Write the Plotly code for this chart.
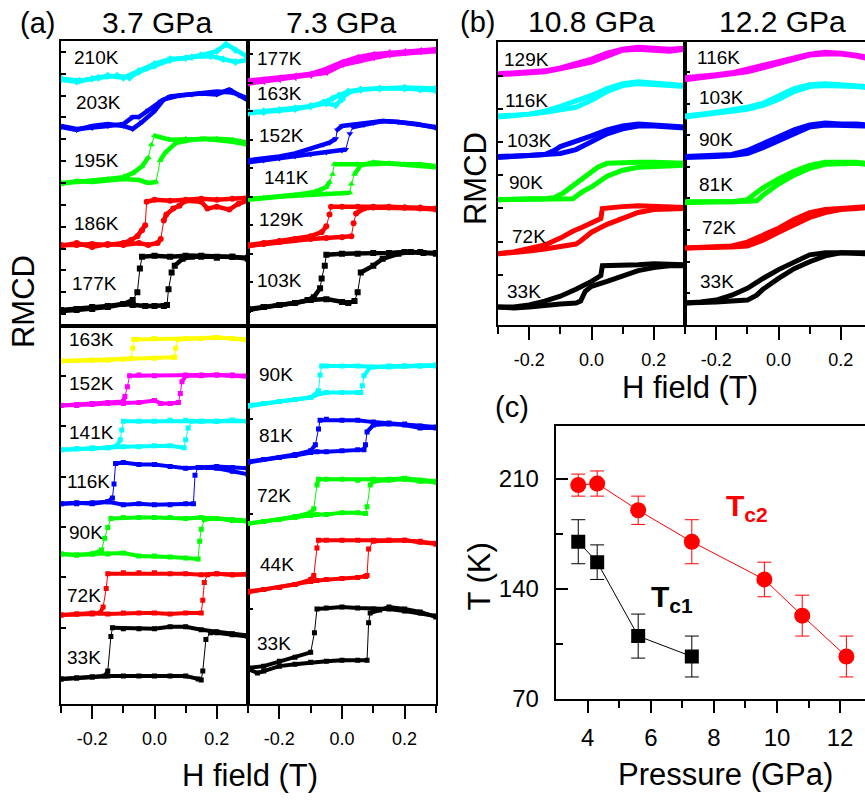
import plotly.graph_objects as go

FONT = "Liberation Sans, Arial, Helvetica, sans-serif"
W, H = 865, 810

# ---------------------------------------------------------------------------
# RMCD field sweeps.  Each branch: list of (field [T], signal [a.u., with offset]).
# up_* : sweep -0.3 T -> +0.3 T,  dn_* : sweep +0.3 T -> -0.3 T
# ---------------------------------------------------------------------------

# (a) 3.7 GPa, high-temperature frame
up_37_210 = [(-0.30, 250), (-0.25, 248), (-0.20, 251), (-0.15, 254), (-0.10, 252), (-0.05, 259), (0.00, 266), (0.05, 271), (0.10, 272), (0.15, 275), (0.20, 279), (0.23, 286), (0.26, 280), (0.30, 273)]
dn_37_210 = [(0.30, 270), (0.26, 268), (0.22, 271), (0.18, 274), (0.12, 273), (0.05, 270), (0.00, 264), (-0.05, 258), (-0.08, 252), (-0.12, 254), (-0.18, 252), (-0.24, 249), (-0.30, 251)]
up_37_203 = [(-0.30, 202), (-0.25, 199), (-0.20, 203), (-0.15, 205), (-0.10, 203), (-0.07, 200), (-0.04, 207), (0.00, 218), (0.03, 230), (0.08, 234), (0.15, 236), (0.20, 235), (0.24, 240), (0.27, 234), (0.30, 229)]
dn_37_203 = [(0.30, 231), (0.25, 237), (0.20, 238), (0.12, 235), (0.05, 233), (0.02, 228), (-0.02, 219), (-0.05, 212), (-0.07, 212), (-0.10, 205), (-0.15, 203), (-0.20, 201), (-0.25, 200), (-0.30, 203)]
up_37_195 = [(-0.30, 144), (-0.25, 147), (-0.20, 146), (-0.15, 148), (-0.10, 149), (-0.05, 148), (-0.02, 145), (0.005, 146), (0.018, 168), (0.035, 176), (0.07, 186), (0.12, 189), (0.16, 190), (0.20, 189), (0.25, 187), (0.30, 184)]
dn_37_195 = [(0.30, 186), (0.25, 189), (0.20, 190), (0.15, 190), (0.10, 190), (0.05, 189), (0.00, 193), (-0.01, 184), (-0.02, 171), (-0.04, 162), (-0.07, 155), (-0.10, 151), (-0.15, 149), (-0.20, 147), (-0.25, 146), (-0.30, 145)]
up_37_186 = [(-0.30, 81), (-0.25, 84), (-0.20, 80), (-0.15, 83), (-0.10, 82), (-0.05, 84), (-0.02, 82), (0.01, 84), (0.02, 88), (0.03, 107), (0.038, 113), (0.06, 119), (0.08, 122), (0.10, 127), (0.15, 126), (0.17, 119), (0.20, 121), (0.24, 118), (0.27, 124), (0.30, 127)]
dn_37_186 = [(0.30, 130), (0.25, 129), (0.20, 128), (0.15, 129), (0.10, 128), (0.05, 127), (0.00, 128), (-0.025, 126), (-0.03, 102), (-0.04, 97), (-0.055, 91), (-0.075, 87), (-0.10, 84), (-0.15, 82), (-0.20, 83), (-0.25, 82), (-0.30, 82)]
up_37_177 = [(-0.30, 16), (-0.25, 17), (-0.20, 19), (-0.15, 20), (-0.10, 22), (-0.07, 21), (-0.03, 20), (0.00, 20), (0.03, 20), (0.04, 21), (0.045, 37), (0.055, 54), (0.065, 61), (0.09, 68), (0.12, 70), (0.15, 70), (0.20, 69), (0.25, 70), (0.30, 68)]
dn_37_177 = [(0.30, 69), (0.25, 70), (0.20, 70), (0.15, 71), (0.10, 71), (0.05, 70), (0.00, 71), (-0.04, 70), (-0.047, 58), (-0.055, 34), (-0.07, 26), (-0.10, 22), (-0.15, 19), (-0.20, 17), (-0.25, 16), (-0.30, 15)]

# (a) 7.3 GPa, high-temperature frame
up_73_177 = [(-0.30, 246), (-0.25, 248), (-0.20, 250), (-0.15, 252), (-0.10, 254), (-0.05, 257), (0.00, 265), (0.05, 269), (0.10, 272), (0.15, 275), (0.20, 277), (0.25, 278), (0.30, 279)]
dn_73_177 = [(0.30, 281), (0.25, 280), (0.20, 279), (0.15, 278), (0.10, 276), (0.05, 273), (0.00, 268), (-0.05, 261), (-0.10, 256), (-0.15, 254), (-0.20, 252), (-0.25, 250), (-0.30, 249)]
up_73_163 = [(-0.30, 216), (-0.25, 217), (-0.20, 219), (-0.15, 220), (-0.10, 223), (-0.05, 226), (-0.02, 224), (0.00, 230), (0.02, 237), (0.06, 240), (0.12, 241), (0.20, 241), (0.25, 240), (0.30, 239)]
dn_73_163 = [(0.30, 241), (0.20, 242), (0.12, 241), (0.06, 240), (0.02, 238), (-0.01, 234), (-0.03, 231), (-0.06, 227), (-0.10, 223), (-0.15, 221), (-0.20, 219), (-0.25, 218), (-0.30, 217)]
up_73_152 = [(-0.30, 166), (-0.25, 168), (-0.20, 170), (-0.15, 172), (-0.10, 174), (-0.05, 176), (0.00, 178), (0.012, 179), (0.025, 195), (0.035, 202), (0.07, 204), (0.10, 206), (0.13, 208), (0.18, 207), (0.24, 205), (0.30, 201)]
dn_73_152 = [(0.30, 202), (0.24, 205), (0.18, 207), (0.13, 208), (0.08, 206), (0.03, 204), (0.00, 203), (-0.015, 199), (-0.02, 190), (-0.04, 186), (-0.06, 184), (-0.10, 180), (-0.15, 175), (-0.20, 172), (-0.25, 170), (-0.30, 168)]
up_73_141 = [(-0.30, 128), (-0.25, 130), (-0.20, 131), (-0.15, 132), (-0.10, 133), (-0.05, 134), (0.00, 134), (0.025, 135), (0.03, 144), (0.04, 154), (0.06, 163), (0.10, 166), (0.15, 165), (0.20, 164), (0.25, 163), (0.30, 161)]
dn_73_141 = [(0.30, 162), (0.25, 164), (0.20, 164), (0.15, 165), (0.10, 164), (0.05, 164), (0.00, 164), (-0.025, 164), (-0.03, 154), (-0.04, 146), (-0.05, 141), (-0.07, 138), (-0.10, 135), (-0.15, 133), (-0.20, 131), (-0.25, 130), (-0.30, 129)]
up_73_129 = [(-0.30, 81), (-0.25, 83), (-0.20, 85), (-0.15, 87), (-0.10, 88), (-0.05, 89), (0.00, 90), (0.03, 91), (0.037, 104), (0.045, 114), (0.07, 119), (0.10, 120), (0.15, 120), (0.20, 120), (0.25, 119), (0.30, 118)]
dn_73_129 = [(0.30, 119), (0.25, 120), (0.20, 120), (0.15, 121), (0.10, 121), (0.05, 121), (0.00, 121), (-0.035, 121), (-0.04, 113), (-0.05, 101), (-0.065, 95), (-0.10, 91), (-0.15, 88), (-0.20, 86), (-0.25, 84), (-0.30, 82)]
up_73_103 = [(-0.30, 16), (-0.25, 19), (-0.20, 21), (-0.15, 23), (-0.10, 26), (-0.05, 27), (0.00, 24), (0.02, 23), (0.04, 25), (0.05, 34), (0.06, 54), (0.10, 61), (0.13, 68), (0.18, 73), (0.22, 75), (0.26, 74), (0.30, 73)]
dn_73_103 = [(0.30, 74), (0.25, 75), (0.20, 75), (0.15, 74), (0.10, 74), (0.05, 73), (0.00, 73), (-0.05, 72), (-0.055, 61), (-0.065, 48), (-0.07, 38), (-0.09, 29), (-0.11, 26), (-0.15, 23), (-0.20, 21), (-0.25, 19), (-0.30, 17)]

# (a) 3.7 GPa, low-temperature frame
up_37_163 = [(-0.30, 348), (-0.20, 349), (-0.10, 350), (0.00, 351), (0.06, 352), (0.065, 352), (0.068, 361), (0.075, 370), (0.15, 371), (0.20, 372), (0.25, 371), (0.30, 369)]
dn_37_163 = [(0.30, 370), (0.25, 371), (0.20, 372), (0.10, 371), (0.00, 371), (-0.06, 370), (-0.067, 370), (-0.07, 361), (-0.075, 351), (-0.15, 349), (-0.20, 349), (-0.30, 348)]
up_37_152 = [(-0.30, 303), (-0.25, 303), (-0.20, 304), (-0.15, 305), (-0.10, 305), (-0.05, 306), (0.00, 308), (0.02, 305), (0.05, 305), (0.077, 306), (0.083, 315), (0.088, 327), (0.10, 333), (0.15, 333), (0.20, 334), (0.25, 333), (0.30, 332)]
dn_37_152 = [(0.30, 333), (0.25, 334), (0.20, 334), (0.15, 334), (0.10, 334), (0.00, 333), (-0.05, 334), (-0.08, 333), (-0.087, 322), (-0.095, 312), (-0.10, 307), (-0.15, 306), (-0.20, 305), (-0.25, 304), (-0.30, 303)]
up_37_141 = [(-0.30, 258), (-0.25, 259), (-0.20, 260), (-0.15, 260), (-0.10, 261), (-0.05, 261), (0.00, 262), (0.05, 262), (0.095, 260), (0.10, 268), (0.108, 280), (0.12, 287), (0.15, 287), (0.20, 287), (0.25, 288), (0.30, 287)]
dn_37_141 = [(0.30, 287), (0.25, 288), (0.20, 287), (0.15, 287), (0.10, 288), (0.05, 288), (0.00, 287), (-0.05, 287), (-0.10, 287), (-0.105, 278), (-0.11, 268), (-0.12, 262), (-0.15, 260), (-0.20, 259), (-0.25, 259), (-0.30, 258)]
up_37_116 = [(-0.30, 203), (-0.25, 204), (-0.20, 203), (-0.15, 205), (-0.10, 202), (-0.05, 203), (0.00, 202), (0.05, 202), (0.10, 203), (0.125, 203), (0.13, 232), (0.14, 240), (0.17, 240), (0.20, 239), (0.25, 236), (0.30, 233)]
dn_37_116 = [(0.30, 239), (0.25, 240), (0.20, 241), (0.15, 240), (0.10, 239), (0.05, 241), (0.00, 243), (-0.05, 243), (-0.10, 245), (-0.125, 244), (-0.13, 223), (-0.135, 209), (-0.15, 205), (-0.20, 204), (-0.25, 203), (-0.30, 203)]
up_37_90 = [(-0.30, 152), (-0.25, 151), (-0.20, 152), (-0.15, 152), (-0.10, 153), (-0.05, 150), (0.00, 150), (0.05, 149), (0.10, 148), (0.14, 147), (0.145, 165), (0.15, 177), (0.16, 187), (0.20, 188), (0.25, 186), (0.30, 185)]
dn_37_90 = [(0.30, 186), (0.25, 187), (0.20, 188), (0.15, 189), (0.10, 188), (0.05, 189), (0.00, 189), (-0.05, 189), (-0.10, 189), (-0.14, 188), (-0.15, 179), (-0.16, 168), (-0.17, 156), (-0.20, 152), (-0.25, 151), (-0.30, 152)]
up_37_72 = [(-0.30, 90), (-0.25, 91), (-0.20, 92), (-0.15, 91), (-0.10, 92), (-0.05, 92), (0.00, 92), (0.05, 91), (0.10, 92), (0.15, 92), (0.155, 105), (0.16, 123), (0.17, 131), (0.20, 132), (0.25, 131), (0.30, 131)]
dn_37_72 = [(0.30, 132), (0.25, 131), (0.20, 132), (0.15, 131), (0.10, 132), (0.05, 132), (0.00, 133), (-0.05, 133), (-0.10, 133), (-0.15, 132), (-0.155, 117), (-0.165, 98), (-0.175, 92), (-0.20, 91), (-0.25, 91), (-0.30, 90)]
up_37_33 = [(-0.30, 25), (-0.25, 26), (-0.20, 27), (-0.15, 28), (-0.10, 28), (-0.05, 28), (0.00, 28), (0.05, 28), (0.10, 28), (0.14, 25), (0.15, 24), (0.155, 33), (0.165, 65), (0.18, 72), (0.20, 72), (0.25, 70), (0.30, 68)]
dn_37_33 = [(0.30, 69), (0.25, 71), (0.20, 73), (0.15, 75), (0.10, 78), (0.05, 78), (0.00, 76), (-0.05, 76), (-0.10, 76), (-0.135, 77), (-0.14, 68), (-0.15, 33), (-0.16, 28), (-0.20, 27), (-0.25, 26), (-0.30, 25)]

# (a) 7.3 GPa, low-temperature frame
up_73_90 = [(-0.30, 302), (-0.25, 305), (-0.20, 307), (-0.15, 309), (-0.10, 311), (-0.07, 315), (-0.05, 316), (0.00, 316), (0.05, 316), (0.06, 316), (0.065, 323), (0.07, 333), (0.09, 342), (0.15, 342), (0.20, 343), (0.25, 343), (0.30, 343)]
dn_73_90 = [(0.30, 344), (0.25, 343), (0.20, 343), (0.15, 343), (0.10, 342), (0.05, 343), (0.00, 343), (-0.05, 343), (-0.065, 343), (-0.07, 334), (-0.075, 318), (-0.10, 311), (-0.15, 309), (-0.20, 307), (-0.25, 305), (-0.30, 303)]
up_73_81 = [(-0.30, 245), (-0.25, 248), (-0.20, 250), (-0.15, 252), (-0.10, 255), (-0.08, 256), (-0.05, 256), (0.00, 257), (0.05, 258), (0.07, 258), (0.075, 263), (0.08, 276), (0.10, 283), (0.15, 284), (0.20, 283), (0.25, 280), (0.30, 280)]
dn_73_81 = [(0.30, 281), (0.25, 282), (0.20, 284), (0.15, 285), (0.10, 286), (0.05, 288), (0.00, 288), (-0.05, 289), (-0.07, 288), (-0.075, 279), (-0.085, 263), (-0.10, 257), (-0.15, 253), (-0.20, 250), (-0.25, 248), (-0.30, 246)]
up_73_72 = [(-0.30, 183), (-0.25, 185), (-0.20, 187), (-0.15, 189), (-0.10, 191), (-0.08, 192), (-0.05, 192), (0.00, 194), (0.05, 194), (0.075, 193), (0.08, 200), (0.09, 222), (0.10, 226), (0.15, 227), (0.20, 228), (0.25, 226), (0.30, 225)]
dn_73_72 = [(0.30, 226), (0.25, 227), (0.20, 229), (0.15, 228), (0.10, 228), (0.05, 227), (0.00, 228), (-0.05, 228), (-0.075, 228), (-0.08, 222), (-0.09, 198), (-0.10, 194), (-0.15, 190), (-0.20, 187), (-0.25, 185), (-0.30, 183)]
up_73_44 = [(-0.30, 113), (-0.25, 116), (-0.20, 118), (-0.15, 121), (-0.10, 124), (-0.08, 125), (-0.05, 126), (0.00, 127), (0.05, 128), (0.075, 129), (0.08, 130), (0.085, 157), (0.10, 165), (0.15, 166), (0.20, 166), (0.25, 164), (0.30, 162)]
dn_73_44 = [(0.30, 163), (0.25, 165), (0.20, 166), (0.15, 166), (0.10, 166), (0.05, 166), (0.00, 166), (-0.05, 166), (-0.075, 166), (-0.08, 158), (-0.09, 130), (-0.10, 126), (-0.15, 121), (-0.20, 118), (-0.25, 116), (-0.30, 114)]
up_73_33 = [(-0.30, 35), (-0.27, 31), (-0.25, 33), (-0.20, 38), (-0.15, 40), (-0.10, 42), (-0.05, 43), (0.00, 44), (0.05, 44), (0.08, 44), (0.085, 82), (0.09, 92), (0.12, 95), (0.15, 98), (0.20, 96), (0.25, 93), (0.30, 88)]
dn_73_33 = [(0.30, 89), (0.25, 92), (0.20, 94), (0.15, 96), (0.10, 96), (0.05, 97), (0.00, 98), (-0.05, 97), (-0.08, 96), (-0.088, 72), (-0.10, 52), (-0.15, 47), (-0.20, 43), (-0.25, 38), (-0.30, 36)]

# (b) 10.8 GPa
up_108_129 = [(-0.30, 254), (-0.25, 255), (-0.20, 256), (-0.15, 257), (-0.10, 260), (-0.05, 263), (0.00, 267), (0.05, 273), (0.10, 279), (0.15, 280), (0.20, 279), (0.25, 278), (0.30, 280)]
dn_108_129 = [(0.30, 281), (0.25, 280), (0.20, 281), (0.15, 282), (0.10, 280), (0.05, 276), (0.00, 270), (-0.05, 265), (-0.10, 261), (-0.15, 258), (-0.20, 257), (-0.25, 256), (-0.30, 255)]
up_108_116 = [(-0.30, 211), (-0.25, 212), (-0.20, 214), (-0.15, 216), (-0.10, 218), (-0.05, 221), (0.00, 228), (0.05, 237), (0.10, 243), (0.15, 245), (0.20, 244), (0.25, 243), (0.30, 242)]
dn_108_116 = [(0.30, 243), (0.25, 244), (0.20, 246), (0.15, 247), (0.10, 245), (0.05, 240), (0.00, 233), (-0.05, 227), (-0.10, 222), (-0.15, 217), (-0.20, 214), (-0.25, 213), (-0.30, 212)]
up_108_103 = [(-0.30, 170), (-0.25, 171), (-0.20, 172), (-0.15, 172), (-0.10, 174), (-0.05, 178), (0.00, 186), (0.05, 194), (0.10, 199), (0.15, 202), (0.20, 202), (0.25, 201), (0.30, 200)]
dn_108_103 = [(0.30, 201), (0.25, 202), (0.20, 203), (0.15, 204), (0.10, 202), (0.05, 198), (0.00, 192), (-0.05, 187), (-0.10, 181), (-0.12, 177), (-0.15, 173), (-0.20, 172), (-0.25, 171), (-0.30, 171)]
up_108_90 = [(-0.30, 127), (-0.25, 127), (-0.20, 128), (-0.15, 128), (-0.10, 128), (-0.06, 128), (-0.03, 135), (0.00, 140), (0.05, 151), (0.10, 157), (0.15, 160), (0.20, 161), (0.25, 162), (0.30, 162)]
dn_108_90 = [(0.30, 164), (0.25, 165), (0.20, 165), (0.15, 165), (0.10, 165), (0.05, 164), (0.02, 160), (0.00, 155), (-0.03, 148), (-0.06, 141), (-0.09, 134), (-0.12, 129), (-0.15, 128), (-0.20, 128), (-0.25, 127), (-0.30, 127)]
up_108_72 = [(-0.30, 72), (-0.25, 73), (-0.20, 75), (-0.15, 77), (-0.10, 79), (-0.05, 82), (-0.035, 85), (0.00, 94), (0.05, 102), (0.10, 108), (0.15, 114), (0.20, 117), (0.25, 118), (0.30, 118)]
dn_108_72 = [(0.30, 119), (0.25, 120), (0.20, 120), (0.15, 121), (0.10, 120), (0.06, 119), (0.035, 118), (0.03, 108), (0.00, 103), (-0.03, 99), (-0.06, 95), (-0.10, 88), (-0.15, 81), (-0.20, 77), (-0.25, 74), (-0.30, 72)]
up_108_33 = [(-0.30, 18), (-0.25, 17), (-0.20, 18), (-0.15, 20), (-0.10, 21), (-0.05, 22), (-0.035, 24), (-0.02, 34), (0.00, 39), (0.05, 44), (0.10, 50), (0.15, 55), (0.20, 58), (0.25, 60), (0.30, 60)]
dn_108_33 = [(0.30, 61), (0.25, 62), (0.20, 62), (0.15, 61), (0.10, 61), (0.05, 61), (0.035, 60), (0.03, 50), (0.00, 44), (-0.05, 36), (-0.10, 29), (-0.15, 24), (-0.20, 20), (-0.25, 18), (-0.30, 18)]

# (b) 12.2 GPa
up_122_116 = [(-0.30, 249), (-0.25, 251), (-0.20, 253), (-0.15, 255), (-0.10, 257), (-0.05, 261), (0.00, 265), (0.05, 270), (0.10, 274), (0.15, 275), (0.20, 275), (0.25, 273), (0.28, 271)]
dn_122_116 = [(0.28, 272), (0.25, 274), (0.20, 276), (0.15, 277), (0.10, 275), (0.05, 271), (0.00, 267), (-0.05, 263), (-0.10, 259), (-0.15, 256), (-0.20, 254), (-0.25, 252), (-0.30, 251)]
up_122_103 = [(-0.30, 211), (-0.25, 213), (-0.20, 215), (-0.15, 217), (-0.10, 219), (-0.05, 223), (0.00, 229), (0.05, 237), (0.10, 242), (0.15, 243), (0.20, 243), (0.25, 242), (0.28, 241)]
dn_122_103 = [(0.28, 242), (0.25, 243), (0.20, 244), (0.15, 245), (0.10, 244), (0.05, 240), (0.00, 232), (-0.05, 225), (-0.10, 221), (-0.15, 218), (-0.20, 216), (-0.25, 214), (-0.30, 212)]
up_122_90 = [(-0.30, 170), (-0.25, 170), (-0.20, 171), (-0.15, 172), (-0.10, 174), (-0.05, 180), (0.00, 187), (0.05, 195), (0.10, 201), (0.15, 203), (0.20, 203), (0.25, 202), (0.28, 202)]
dn_122_90 = [(0.28, 203), (0.25, 204), (0.20, 204), (0.15, 205), (0.10, 203), (0.05, 198), (0.00, 191), (-0.05, 184), (-0.10, 177), (-0.15, 173), (-0.20, 172), (-0.25, 171), (-0.30, 171)]
up_122_81 = [(-0.30, 124), (-0.25, 125), (-0.20, 125), (-0.15, 125), (-0.10, 125), (-0.07, 126), (-0.04, 134), (0.00, 143), (0.05, 152), (0.10, 159), (0.15, 163), (0.20, 164), (0.25, 164), (0.28, 163)]
dn_122_81 = [(0.28, 164), (0.25, 165), (0.20, 165), (0.15, 165), (0.10, 162), (0.05, 156), (0.00, 148), (-0.05, 139), (-0.08, 132), (-0.10, 127), (-0.15, 125), (-0.20, 125), (-0.25, 125), (-0.30, 125)]
up_122_72 = [(-0.30, 78), (-0.25, 78), (-0.20, 79), (-0.15, 79), (-0.10, 80), (-0.07, 83), (-0.05, 86), (0.00, 94), (0.05, 102), (0.10, 109), (0.15, 114), (0.20, 117), (0.25, 118), (0.28, 119)]
dn_122_72 = [(0.28, 120), (0.25, 119), (0.20, 118), (0.15, 117), (0.10, 114), (0.05, 107), (0.00, 98), (-0.05, 91), (-0.10, 84), (-0.15, 80), (-0.20, 79), (-0.25, 79), (-0.30, 78)]
up_122_33 = [(-0.30, 22), (-0.25, 22), (-0.20, 23), (-0.15, 24), (-0.10, 25), (-0.07, 30), (-0.05, 36), (0.00, 47), (0.05, 57), (0.10, 64), (0.15, 70), (0.20, 73), (0.25, 72), (0.28, 72)]
dn_122_33 = [(0.28, 73), (0.25, 73), (0.20, 74), (0.15, 73), (0.10, 71), (0.05, 64), (0.00, 56), (-0.05, 47), (-0.10, 37), (-0.15, 30), (-0.20, 25), (-0.25, 23), (-0.30, 22)]

# (c) transition temperatures vs pressure
pressure_c1 = [3.7, 4.3, 5.6, 7.3]
tc1 = [170, 157, 110, 97]
tc1_err = [14, 11, 14, 13]
pressure_c2 = [3.7, 4.3, 5.6, 7.3, 9.6, 10.8, 12.2]
tc2 = [206, 207, 190, 170, 146, 123, 97]
tc2_err = [7, 8, 9, 14, 11, 13, 13]

# curve sets per frame: (label, up-sweep, down-sweep), top to bottom
frame_37_high = [("210K", up_37_210, dn_37_210), ("203K", up_37_203, dn_37_203), ("195K", up_37_195, dn_37_195),
                 ("186K", up_37_186, dn_37_186), ("177K", up_37_177, dn_37_177)]
frame_73_high = [("177K", up_73_177, dn_73_177), ("163K", up_73_163, dn_73_163), ("152K", up_73_152, dn_73_152),
                 ("141K", up_73_141, dn_73_141), ("129K", up_73_129, dn_73_129), ("103K", up_73_103, dn_73_103)]
frame_37_low = [("163K", up_37_163, dn_37_163), ("152K", up_37_152, dn_37_152), ("141K", up_37_141, dn_37_141),
                ("116K", up_37_116, dn_37_116), ("90K", up_37_90, dn_37_90), ("72K", up_37_72, dn_37_72),
                ("33K", up_37_33, dn_37_33)]
frame_73_low = [("90K", up_73_90, dn_73_90), ("81K", up_73_81, dn_73_81), ("72K", up_73_72, dn_73_72),
                ("44K", up_73_44, dn_73_44), ("33K", up_73_33, dn_73_33)]
frame_108 = [("129K", up_108_129, dn_108_129), ("116K", up_108_116, dn_108_116), ("103K", up_108_103, dn_108_103),
             ("90K", up_108_90, dn_108_90), ("72K", up_108_72, dn_108_72), ("33K", up_108_33, dn_108_33)]
frame_122 = [("116K", up_122_116, dn_122_116), ("103K", up_122_103, dn_122_103), ("90K", up_122_90, dn_122_90),
             ("81K", up_122_81, dn_122_81), ("72K", up_122_72, dn_122_72), ("33K", up_122_33, dn_122_33)]

# ---------------------------------------------------------------------------
# styling / layout
# ---------------------------------------------------------------------------
BLACK, RED, GREEN, BLUE = "#000000", "#FF0000", "#00FF00", "#0000FF"
CYAN, MAGENTA, YELLOW = "#00FFFF", "#FF00FF", "#FFFF00"

frames = [
    dict(n="", curves=frame_37_high, colors=[CYAN, BLUE, GREEN, RED, BLACK],
         symbols=["diamond", "triangle-down", "triangle-up", "circle", "square"], band=4.5, msize=6, split=True,
         labels=[(-0.266, 273), (-0.26, 227), (-0.266, 168), (-0.266, 104), (-0.27, 43)]),
    dict(n="2", curves=frame_73_high, colors=[MAGENTA, CYAN, BLUE, GREEN, RED, BLACK],
         symbols=["triangle-left", "diamond", "triangle-down", "triangle-up", "circle", "square"], band=4.5, msize=6,
         split=True,
         labels=[(-0.278, 272), (-0.278, 236), (-0.272, 193), (-0.256, 151), (-0.272, 108), (-0.278, 46)]),
    dict(n="3", curves=frame_37_low, colors=[YELLOW, MAGENTA, CYAN, BLUE, GREEN, RED, BLACK],
         symbols=["square"] * 7, band=4.0, msize=5, split=True,
         labels=[(-0.282, 370), (-0.282, 325), (-0.282, 275), (-0.287, 226), (-0.282, 174), (-0.287, 110), (-0.287, 47)]),
    dict(n="4", curves=frame_73_low, colors=[CYAN, BLUE, GREEN, RED, BLACK],
         symbols=["square"] * 5, band=4.0, msize=5, split=True,
         labels=[(-0.272, 334), (-0.272, 272), (-0.278, 211), (-0.269, 141), (-0.278, 61)]),
    dict(n="5", curves=frame_108, colors=[MAGENTA, CYAN, BLUE, GREEN, RED, BLACK],
         symbols=[None] * 6, band=5.0, msize=0, split=False,
         labels=[(-0.288, 270), (-0.283, 228), (-0.277, 187), (-0.272, 145), (-0.261, 90), (-0.277, 34)]),
    dict(n="6", curves=frame_122, colors=[MAGENTA, CYAN, BLUE, GREEN, RED, BLACK],
         symbols=[None] * 6, band=5.0, msize=0, split=False,
         labels=[(-0.268, 272), (-0.262, 231), (-0.262, 188), (-0.262, 142), (-0.251, 99), (-0.257, 44)]),
]


def split_sweep(pts, split=True, min_jump=6.0, max_dh=0.016):
    """Continuous stretches of a sweep vs. near-vertical switching steps."""
    bx, by = [pts[0][0]], [pts[0][1]]
    jx, jy = [], []
    for (h0, m0), (h1, m1) in zip(pts, pts[1:]):
        if split and abs(m1 - m0) > min_jump and abs(h1 - h0) < max_dh:
            jx += [h0, h1, None]
            jy += [m0, m1, None]
            bx.append(None)
            by.append(None)
        bx.append(h1)
        by.append(m1)
    return bx, by, jx, jy


fig = go.Figure()
annotations = []

for fr in frames:
    xa, ya = "x" + fr["n"], "y" + fr["n"]
    for (label, up, dn), color, sym, (lx, ly) in zip(fr["curves"], fr["colors"], fr["symbols"], fr["labels"]):
        for sweep in (up, dn):
            bx, by, jx, jy = split_sweep(sweep, fr["split"])
            fig.add_trace(go.Scatter(
                x=bx, y=by, xaxis=xa, yaxis=ya, name=label,
                mode="lines+markers" if sym else "lines",
                line=dict(color=color, width=fr["band"]),
                marker=dict(symbol=sym or "circle", size=fr["msize"], color=color),
                connectgaps=False, showlegend=False, hoverinfo="skip"))
            if jx:
                fig.add_trace(go.Scatter(
                    x=jx, y=jy, xaxis=xa, yaxis=ya, name=label, mode="lines",
                    line=dict(color=color, width=1), showlegend=False, hoverinfo="skip"))
        annotations.append(dict(x=lx, y=ly, xref=xa, yref=ya, text=label, showarrow=False,
                                xanchor="left", yanchor="middle",
                                font=dict(family=FONT, size=19, color="black")))

# (c) Tc1 / Tc2
fig.add_trace(go.Scatter(
    x=pressure_c2, y=tc2, xaxis="x7", yaxis="y7", mode="lines+markers", name="Tc2",
    line=dict(color=RED, width=1), marker=dict(symbol="circle", size=16, color=RED),
    error_y=dict(type="data", array=tc2_err, color=RED, thickness=1, width=7),
    showlegend=False, hoverinfo="skip"))
fig.add_trace(go.Scatter(
    x=pressure_c1, y=tc1, xaxis="x7", yaxis="y7", mode="lines+markers", name="Tc1",
    line=dict(color=BLACK, width=1), marker=dict(symbol="square", size=14, color=BLACK),
    error_y=dict(type="data", array=tc1_err, color=BLACK, thickness=1, width=7),
    showlegend=False, hoverinfo="skip"))


def dx(a, b):
    return [a / W, min(b / W, 1.0)]


def dy(top, bottom):
    return [1 - bottom / H, 1 - top / H]


FRAME = dict(showline=True, linecolor="black", linewidth=2, mirror=True, showgrid=False, zeroline=False)
FIELD_RANGE = [-0.3002, 0.3002]


def field_axis(dom, anchor, labelled, rng=FIELD_RANGE, mirror=True):
    ax = dict(FRAME, domain=dom, anchor=anchor, range=rng, mirror=mirror)
    if labelled:
        ax.update(ticks="outside", tickvals=[-0.2, 0.0, 0.2], ticktext=["-0.2", "0.0", "0.2"],
                  ticklen=13, tickwidth=2, tickcolor="black",
                  tickfont=dict(family=FONT, size=18, color="black"), ticklabelstandoff=5,
                  minor=dict(ticks="outside", tickvals=[-0.3, -0.1, 0.1, 0.3], ticklen=7,
                             tickwidth=2, tickcolor="black"))
    else:
        ax.update(ticks="", showticklabels=False)
    return ax


def signal_axis(dom, anchor, rng, tick0, dtick, mirror=True):
    return dict(FRAME, domain=dom, anchor=anchor, range=rng, mirror=mirror, ticks="inside",
                ticklen=5, tickwidth=1.5, tickcolor="black", tick0=tick0, dtick=dtick,
                showticklabels=False)


A_COL1, A_COL2 = dx(61, 248), dx(248, 436)
A_UP, A_LOW = dy(42, 331), dy(331, 715)
B_COL1, B_COL2 = dx(498, 685), dx(685, 865)
B_ROW = dy(42.7, 330)
C_X, C_Y = dx(555.7, 865), dy(432.7, 710.7)

layout_axes = dict(
    xaxis=field_axis(A_COL1, "y", False), yaxis=signal_axis(A_UP, "x", [0, 289], 11.8, 22.2),
    xaxis2=field_axis(A_COL2, "y2", False), yaxis2=signal_axis(A_UP, "x2", [0, 289], 15, 29),
    xaxis3=field_axis(A_COL1, "y3", True), yaxis3=signal_axis(A_LOW, "x3", [0, 384], 25.8, 51.2),
    xaxis4=field_axis(A_COL2, "y4", True), yaxis4=signal_axis(A_LOW, "x4", [0, 384], 0, 96.3),
    xaxis5=field_axis(B_COL1, "y5", True), yaxis5=signal_axis(B_ROW, "x5", [0, 287.3], 17, 33.7),
    xaxis6=field_axis(B_COL2, "y6", True, rng=[-0.3002, -0.3 + 180 / 311.7]),
    yaxis6=signal_axis(B_ROW, "x6", [0, 287.3], 32, 32.1, mirror=False),
    xaxis7=dict(FRAME, domain=C_X, anchor="y7", range=[2.985, 12.79], mirror=True,
                ticks="outside", tickvals=[4, 6, 8, 10, 12], ticklen=12, tickwidth=2, tickcolor="black",
                tickfont=dict(family=FONT, size=24, color="black"), ticklabelstandoff=4,
                minor=dict(ticks="outside", tickvals=[5, 7, 9, 11], ticklen=7, tickwidth=2, tickcolor="black")),
    yaxis7=dict(FRAME, domain=C_Y, anchor="x7", range=[69.8, 243.75], mirror=False,
                ticks="inside", tickvals=[70, 140, 210], ticklen=12, tickwidth=2, tickcolor="black",
                tickfont=dict(family=FONT, size=24, color="black"), ticklabelstandoff=10,
                minor=dict(ticks="inside", tickvals=[105, 175], ticklen=7, tickwidth=2, tickcolor="black")),
)


def paper_text(px, py, text, size, angle=0, color="black"):
    return dict(x=px / W, y=1 - py / H, xref="paper", yref="paper", text=text, showarrow=False,
                xanchor="center", yanchor="middle", textangle=angle,
                font=dict(family=FONT, size=size, color=color))


annotations += [
    paper_text(37, 23, "(a)", 29),
    paper_text(157, 23, "3.7 GPa", 30),
    paper_text(341, 23, "7.3 GPa", 30),
    paper_text(478, 22, "(b)", 29),
    paper_text(591, 22, "10.8 GPa", 30),
    paper_text(782, 22, "12.2 GPa", 30),
    paper_text(512, 414, "(c)", 29),
    paper_text(23, 307, "RMCD", 31, angle=-90),
    paper_text(475, 182, "RMCD", 31, angle=-90),
    paper_text(250, 788, "H field (T)", 31),
    paper_text(690, 394, "H field (T)", 31),
    paper_text(725, 787, "Pressure (GPa)", 31),
    paper_text(480, 586, "T (K)", 31, angle=-90),
    dict(x=9.05, y=192, xref="x7", yref="y7", text="<b>T<sub>c2</sub></b>", showarrow=False,
         font=dict(family=FONT, size=30, color=RED)),
    dict(x=6.66, y=134, xref="x7", yref="y7", text="<b>T<sub>c1</sub></b>", showarrow=False,
         font=dict(family=FONT, size=30, color=BLACK)),
]

fig.update_layout(
    width=W, height=H, margin=dict(l=0, r=0, t=0, b=0),
    paper_bgcolor="white", plot_bgcolor="white",
    font=dict(family=FONT, color="black"),
    showlegend=False, annotations=annotations, **layout_axes)

fig.write_html("out.html")
